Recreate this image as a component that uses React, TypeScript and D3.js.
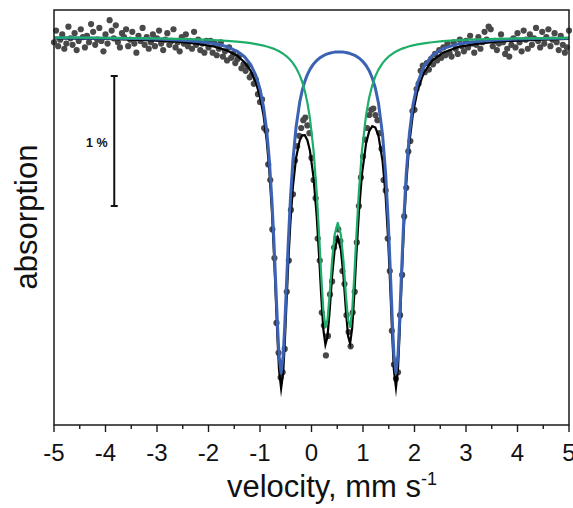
import React from 'react';
import * as d3 from 'd3';

// fit curves sampled on a shared velocity grid (mm/s)
const fitVelocity = [
  -5, -4.5, -4, -3.5, -3, -2.6, -2.2, -1.9, -1.65, -1.45,
  -1.3, -1.18, -1.08, -1.0, -0.93, -0.87, -0.82, -0.77, -0.73, -0.69,
  -0.66, -0.63, -0.59, -0.55, -0.52, -0.49, -0.45, -0.41, -0.36, -0.3,
  -0.23, -0.18, -0.13, -0.08, -0.03, 0.04, 0.1, 0.15, 0.19, 0.23,
  0.27, 0.31, 0.35, 0.4, 0.45, 0.51, 0.57, 0.62, 0.67, 0.71,
  0.75, 0.79, 0.83, 0.87, 0.92, 0.98, 1.06, 1.12, 1.18, 1.24,
  1.3, 1.38, 1.44, 1.49, 1.53, 1.57, 1.6, 1.64, 1.68, 1.71,
  1.75, 1.79, 1.84, 1.9, 1.97, 2.06, 2.18, 2.34, 2.55, 2.85,
  3.2, 3.6, 4.0, 4.5, 5.0,
];

// absorption, % (outer doublet, blue)
const outerDoublet = [
  0.006, 0.007, 0.009, 0.012, 0.016, 0.023, 0.034, 0.050, 0.073, 0.108,
  0.152, 0.213, 0.295, 0.399, 0.540, 0.722, 0.941, 1.248, 1.567, 1.940,
  2.222, 2.453, 2.584, 2.454, 2.224, 1.943, 1.570, 1.252, 0.947, 0.694,
  0.503, 0.410, 0.341, 0.289, 0.249, 0.207, 0.181, 0.164, 0.153, 0.144,
  0.136, 0.130, 0.125, 0.120, 0.116, 0.115, 0.115, 0.116, 0.119, 0.123,
  0.127, 0.133, 0.139, 0.148, 0.161, 0.181, 0.219, 0.259, 0.315, 0.394,
  0.508, 0.753, 1.054, 1.420, 1.792, 2.192, 2.442, 2.585, 2.441, 2.190,
  1.789, 1.415, 1.049, 0.746, 0.522, 0.352, 0.228, 0.143, 0.089, 0.053,
  0.034, 0.022, 0.016, 0.012, 0.009,
];

// absorption, % (inner doublet, green)
const innerDoublet = [
  0.004, 0.005, 0.006, 0.008, 0.011, 0.014, 0.018, 0.023, 0.029, 0.035,
  0.041, 0.047, 0.054, 0.060, 0.066, 0.073, 0.079, 0.085, 0.091, 0.098,
  0.104, 0.110, 0.119, 0.129, 0.137, 0.146, 0.161, 0.177, 0.201, 0.237,
  0.293, 0.346, 0.414, 0.505, 0.626, 0.874, 1.191, 1.539, 1.845, 2.105,
  2.231, 2.177, 1.993, 1.721, 1.519, 1.430, 1.519, 1.721, 1.993, 2.177,
  2.231, 2.105, 1.845, 1.539, 1.191, 0.874, 0.599, 0.465, 0.371, 0.302,
  0.251, 0.201, 0.173, 0.153, 0.140, 0.129, 0.121, 0.112, 0.104, 0.098,
  0.091, 0.085, 0.079, 0.071, 0.064, 0.057, 0.049, 0.040, 0.032, 0.024,
  0.018, 0.014, 0.011, 0.008, 0.007,
];

// absorption, % (total fit, black)
const totalFit = [
  0.010, 0.012, 0.015, 0.020, 0.027, 0.036, 0.052, 0.073, 0.102, 0.142,
  0.194, 0.260, 0.349, 0.459, 0.606, 0.795, 1.020, 1.333, 1.658, 2.038,
  2.326, 2.563, 2.703, 2.583, 2.361, 2.089, 1.731, 1.429, 1.148, 0.931,
  0.796, 0.756, 0.755, 0.794, 0.875, 1.082, 1.372, 1.703, 1.998, 2.249,
  2.367, 2.307, 2.118, 1.840, 1.635, 1.545, 1.634, 1.837, 2.112, 2.300,
  2.358, 2.238, 1.984, 1.687, 1.352, 1.055, 0.818, 0.725, 0.686, 0.696,
  0.759, 0.954, 1.227, 1.573, 1.932, 2.320, 2.563, 2.697, 2.545, 2.288,
  1.880, 1.501, 1.127, 0.817, 0.587, 0.409, 0.276, 0.183, 0.121, 0.077,
  0.052, 0.036, 0.027, 0.020, 0.015,
];

// measured spectrum: one value per channel, channels from -5 mm/s every 0.04 mm/s
const channelStart = -5;
const channelStep = 0.04;
const measured = [
  0.04, -0.05, 0.07, 0.02, -0.02, 0.09, 0.05, -0.08, 0.01, 0.06,
  -0.03, 0.10, 0.03, -0.06, 0.00, 0.08, -0.01, 0.04, -0.10, -0.04,
  0.06, 0.02, -0.07, 0.03, 0.11, -0.02, 0.05, -0.13, -0.05, 0.01,
  -0.09, 0.04, 0.08, -0.03, 0.00, -0.06, 0.07, 0.02, -0.04, 0.05,
  0.12, -0.01, 0.03, -0.07, 0.06, 0.00, 0.09, 0.04, -0.02, 0.07,
  0.01, -0.05, 0.05, 0.10, 0.02, -0.03, 0.06, 0.03, -0.06, 0.08,
  0.04, 0.11, 0.00, 0.05, -0.02, 0.07, 0.03, 0.09, -0.04, 0.06,
  0.02, 0.10, 0.05, 0.12, 0.03, 0.08, 0.03, 0.12, 0.05, 0.14,
  0.09, 0.04, 0.15, 0.11, 0.18, 0.08, 0.16, 0.13, 0.20, 0.17,
  0.14, 0.24, 0.21, 0.26, 0.22, 0.31, 0.29, 0.36, 0.33, 0.44,
  0.50, 0.48, 0.70, 0.72, 0.98, 1.10, 1.48, 1.70, 2.20, 2.43,
  2.62, 2.58, 2.40, 1.96, 1.72, 1.33, 1.21, 0.95, 0.84, 0.76,
  0.70, 0.64, 0.62, 0.68, 0.74, 0.93, 1.10, 1.24, 1.55, 1.72,
  2.12, 2.22, 2.45, 2.30, 1.98, 1.88, 1.62, 1.55, 1.48, 1.57,
  1.80, 1.90, 2.14, 2.27, 2.38, 2.12, 1.96, 1.58, 1.30, 1.08,
  0.92, 0.79, 0.70, 0.60, 0.56, 0.55, 0.60, 0.64, 0.74, 0.86,
  1.10, 1.18, 1.55, 1.80, 2.26, 2.52, 2.63, 2.58, 2.14, 1.83,
  1.38, 1.16, 0.88, 0.80, 0.57, 0.56, 0.40, 0.36, 0.26, 0.22,
  0.27, 0.20, 0.25, 0.17, 0.21, 0.13, 0.18, 0.10, 0.16, 0.08,
  0.14, 0.05, 0.12, 0.15, 0.04, 0.09, 0.13, 0.02, 0.07, 0.11,
  0.03, 0.08, -0.01, 0.05, 0.12, 0.06, 0.00, 0.09, 0.04, -0.04,
  0.02, -0.08, -0.06, 0.07, 0.03, 0.10, 0.05, -0.02, 0.04, 0.13,
  0.09, 0.15, 0.06, 0.01, 0.08, -0.03, 0.04, 0.11, -0.05, 0.02,
  0.09, -0.02, 0.06, 0.01, -0.07, 0.03, 0.08, -0.04, 0.05, 0.00,
  -0.06, 0.07, 0.02, -0.03, 0.04, 0.10, -0.01, 0.06, 0.12, 0.08,
  -0.05,
];

const xTicks = [-5, -4, -3, -2, -1, 0, 1, 2, 3, 4, 5];
const xMinorTicks = [-4.5, -3.5, -2.5, -1.5, -0.5, 0.5, 1.5, 2.5, 3.5, 4.5];

// 1 % scale bar, drawn from 0.3 % down to 1.3 %
const scaleBarStart = 0.3;
const scaleBarLength = 1;

const WIDTH = 573;
const HEIGHT = 508;
const plot = { left: 54, right: 569, top: 10, bottom: 425 };
const FONT = '"Liberation Sans", Arial, Helvetica, sans-serif';

const BLUE = '#3c62b3';
const GREEN = '#1fae6a';
const DOT = '#494949';

export default function App() {
  const x = d3.scaleLinear().domain([-5, 5]).range([plot.left, plot.right]);
  // absorption grows downward
  const y = d3.scaleLinear().domain([-0.208, 2.985]).range([plot.top, plot.bottom]);

  const path = (vals: number[]) =>
    d3.line<number>()
      .x((_, i) => x(fitVelocity[i]))
      .y(d => y(d))(vals) ?? '';

  const points = measured.map((a, i) => ({ v: channelStart + i * channelStep, a }));

  const barX = x(-3.83);
  const barTop = y(scaleBarStart);
  const barBottom = y(scaleBarStart + scaleBarLength);

  return (
    <svg
      width={WIDTH}
      height={HEIGHT}
      style={{ position: 'absolute', left: 0, top: 0, background: '#fff' }}
      fontFamily={FONT}
    >
      {/* data */}
      <g fill={DOT}>
        {points.map((p, i) => (
          <circle key={i} cx={x(p.v)} cy={y(p.a)} r={3.1} />
        ))}
      </g>

      {/* fits */}
      <path d={path(totalFit)} fill="none" stroke="#000" strokeWidth={2.2} strokeLinejoin="miter" strokeMiterlimit={10} />
      <path d={path(outerDoublet)} fill="none" stroke={BLUE} strokeWidth={3} strokeLinejoin="round" />
      <path d={path(innerDoublet)} fill="none" stroke={GREEN} strokeWidth={2.2} strokeLinejoin="round" />

      {/* frame */}
      <rect
        x={plot.left}
        y={plot.top}
        width={plot.right - plot.left}
        height={plot.bottom - plot.top}
        fill="none"
        stroke="#1a1a1a"
        strokeWidth={1.5}
      />

      {/* x axis ticks */}
      <g stroke="#1a1a1a" strokeWidth={1.4}>
        {xTicks.map(t => (
          <line key={'M' + t} x1={x(t)} x2={x(t)} y1={plot.bottom} y2={plot.bottom + 7} />
        ))}
        {xMinorTicks.map(t => (
          <line key={'m' + t} x1={x(t)} x2={x(t)} y1={plot.bottom} y2={plot.bottom + 4} />
        ))}
      </g>
      <g fontSize={24} textAnchor="middle" fill="#111">
        {xTicks.map(t => (
          <text key={t} x={x(t)} y={461}>{t}</text>
        ))}
      </g>

      {/* axis titles */}
      <text x={332} y={497} fontSize={31} textAnchor="middle" fill="#111">
        velocity, mm s<tspan dy={-12} fontSize={18}>-1</tspan>
      </text>
      <text
        transform="translate(37,217) rotate(-90)"
        fontSize={31}
        textAnchor="middle"
        fill="#111"
      >
        absorption
      </text>

      {/* 1 % scale bar */}
      <g stroke="#111" strokeWidth={2}>
        <line x1={barX} x2={barX} y1={barTop} y2={barBottom} />
        <line x1={barX - 3.5} x2={barX + 3.5} y1={barTop} y2={barTop} />
        <line x1={barX - 3.5} x2={barX + 3.5} y1={barBottom} y2={barBottom} />
      </g>
      <text x={107.5} y={147} fontSize={12.5} fontWeight="bold" textAnchor="end" fill="#111">
        1 %
      </text>
    </svg>
  );
}
